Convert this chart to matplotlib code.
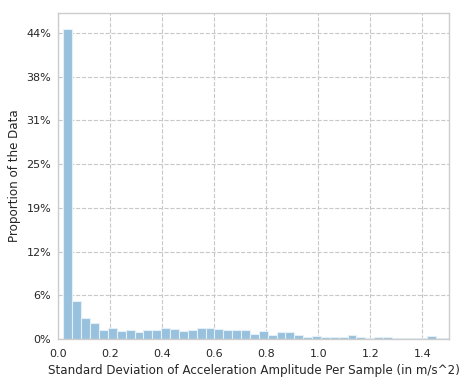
import matplotlib
matplotlib.use("Agg")
import matplotlib.pyplot as plt
from matplotlib.ticker import FuncFormatter, MultipleLocator
import numpy as np

# Histogram bins (data units) and proportions
bin_start = 0.021
bin_width = 0.0341
proportions = [
    0.444, 0.055, 0.0306, 0.0234, 0.0134, 0.0163, 0.0120, 0.0134, 0.0105, 0.0134,
    0.0134, 0.0163, 0.0148, 0.0120, 0.0124, 0.0153, 0.0153, 0.0148, 0.0124, 0.0124,
    0.0124, 0.0077, 0.0110, 0.0062, 0.0096, 0.0096, 0.0062, 0.0029, 0.0043, 0.0029,
    0.0029, 0.0029, 0.0052, 0.0029, 0.0014, 0.0029, 0.0029, 0.0014, 0.0014, 0.0014,
    0.0014, 0.0038, 0.0014, 0.0014,
]
x_label = "Standard Deviation of Acceleration Amplitude Per Sample (in m/s^2)"
y_label = "Proportion of the Data"

edges = bin_start + bin_width * np.arange(len(proportions))

fig, ax = plt.subplots(figsize=(4.68, 3.83), dpi=100)
fig.subplots_adjust(left=0.124, right=0.96, top=0.966, bottom=0.115)

ax.bar(edges, proportions, width=bin_width, align="edge",
       color="#97c1dc", edgecolor="#e4eff7", linewidth=0.8, zorder=2)

ax.set_xlim(0, 1.503)
ax.set_ylim(0, max(proportions) * 1.05)
ax.yaxis.set_major_locator(MultipleLocator(0.0625))
ax.yaxis.set_major_formatter(FuncFormatter(lambda v, p: f"{round(v * 100):d}%"))
ax.xaxis.set_major_locator(MultipleLocator(0.2))

ax.grid(True, color="#c8c8c8", linestyle="--", linewidth=0.8, zorder=0)
ax.set_axisbelow(True)
for s in ax.spines.values():
    s.set_color("#cccccc")
    s.set_linewidth(1.0)
ax.tick_params(axis="both", length=0, labelsize=8, colors="#262626")
ax.tick_params(axis="x", pad=7)
ax.tick_params(axis="y", pad=5)
ax.set_xlabel(x_label, fontsize=8.6, color="#262626", labelpad=4)
ax.set_ylabel(y_label, fontsize=8.6, color="#262626", labelpad=4)

fig.savefig("out.png", dpi=100)
